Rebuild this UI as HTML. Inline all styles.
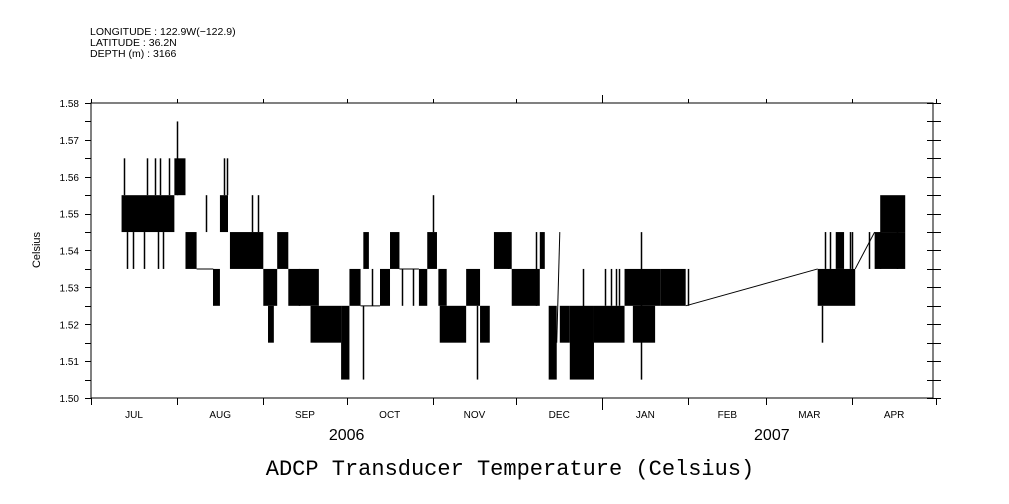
<!DOCTYPE html>
<html><head><meta charset="utf-8"><style>
body{margin:0;background:#fff;width:1009px;height:504px;overflow:hidden}
svg{display:block}
text{font-family:"Liberation Sans",sans-serif;fill:#000}
</style></head><body>
<svg id="chart" width="1009" height="504" viewBox="0 0 1009 504">
<g font-size="10.5">
<text x="90" y="35">LONGITUDE : 122.9W(−122.9)</text>
<text x="90" y="46">LATITUDE : 36.2N</text>
<text x="90" y="57">DEPTH (m) : 3166</text>
</g>
<text x="40" y="250" font-size="11" text-anchor="middle" transform="rotate(-90 40 250)">Celsius</text>
<text x="510" y="475" font-size="22" text-anchor="middle" style="font-family:'Liberation Mono',monospace">ADCP Transducer Temperature (Celsius)</text>
<g id="axes"></g>
<g id="marks"></g>
</svg>
<script>
const monthLabels=["JUL","AUG","SEP","OCT","NOV","DEC","JAN","FEB","MAR","APR"];
const monthStartDays=[0,31,62,92,123,153,184,215,243,274,304];
const yTicks=[1.50,1.51,1.52,1.53,1.54,1.55,1.56,1.57,1.58];
const yearLabels=["2006","2007"];
const blockStart=[11,30,34,43.9,46.4,50,62,63.7,67,71,79,90,93,98,104,107.6,118,121,125.5,125,135,140,145,151.4,161.5,164.7,168.7,172.3,181,192,195,205,261.5,268,282,284];
const blockEnd=[30,34,38,46.4,49.3,62,67,65.8,71,82,90,93,97,100,107.6,111,121,124.5,135,128,140,143.5,151.4,161.5,163.3,167.6,172.3,181,192,205,203,214,275,271,293,293];
const blockLow=[1.545,1.555,1.535,1.525,1.545,1.535,1.525,1.515,1.535,1.525,1.515,1.505,1.525,1.535,1.525,1.535,1.525,1.535,1.515,1.525,1.525,1.515,1.535,1.525,1.535,1.505,1.515,1.505,1.515,1.525,1.515,1.525,1.525,1.535,1.535,1.545];
const blockHigh=[1.555,1.565,1.545,1.535,1.555,1.545,1.535,1.525,1.545,1.535,1.525,1.525,1.535,1.545,1.535,1.545,1.535,1.545,1.525,1.535,1.535,1.525,1.545,1.535,1.545,1.525,1.525,1.525,1.525,1.535,1.525,1.535,1.535,1.545,1.545,1.555];
const spikeDay=[12,13,15,19,20,23,24,25,26,28,31,41.5,48,49,58,60,75,98,101,112,116,123,139,150,160,177,185,187,189,190,198,215,263,264,266,273,274,280,284,290];
const spikeLow=[1.555,1.535,1.535,1.535,1.555,1.555,1.535,1.555,1.535,1.555,1.555,1.545,1.555,1.555,1.545,1.545,1.525,1.505,1.525,1.525,1.525,1.545,1.505,1.535,1.525,1.515,1.525,1.525,1.525,1.525,1.505,1.525,1.515,1.535,1.535,1.535,1.535,1.535,1.535,1.535];
const spikeHigh=[1.565,1.545,1.545,1.545,1.565,1.565,1.545,1.565,1.545,1.565,1.575,1.555,1.565,1.565,1.555,1.555,1.535,1.525,1.535,1.535,1.535,1.555,1.525,1.545,1.545,1.535,1.535,1.535,1.535,1.535,1.545,1.535,1.525,1.545,1.545,1.545,1.545,1.545,1.545,1.545];
const traceDays=[[38,44],[97,104],[111,118],[167.6,168.7],[214,261.5],[275,282]];
const traceVals=[[1.535,1.535],[1.525,1.525],[1.535,1.535],[1.515,1.545],[1.525,1.535],[1.535,1.545]];

const X0=91,X1=933,Y0=103,Y1=398;
const xs=d=>X0+d*(X1-X0)/303;
const ys=v=>Y1-(v-1.50)/0.08*(Y1-Y0);
const NS="http://www.w3.org/2000/svg";
function mk(tag,attrs,parent){const e=document.createElementNS(NS,tag);for(const k in attrs)e.setAttribute(k,attrs[k]);parent.appendChild(e);return e;}
const axes=document.getElementById('axes'),marks=document.getElementById('marks');
const frame=mk('rect',{x:X0,y:Y0,width:X1-X0,height:Y1-Y0,fill:'none',stroke:'#000','stroke-width':1},axes);


for(let i=0;i<=16;i++){
  const v=1.50+i*0.005,y=Math.round(ys(v))+0.5;
  const t=mk('path',{d:`M${X0-6} ${y}H${X0} M${X1-6} ${y}H${X1+8}`,stroke:'#000'},axes);
  
  
}
yTicks.forEach(v=>{
  const t=mk('text',{x:X0-12,y:ys(v)+4,'font-size':10,'text-anchor':'end'},axes);
  t.textContent=v.toFixed(2);
  
  
});
monthStartDays.forEach((d,i)=>{
  const x=Math.round(xs(d))+0.5,big=(d===184);
  const t=mk('path',{d:`M${x} ${Y0-(big?8:4)}V${Y0} M${x} ${Y1}V${Y1+(big?12:7)}`,stroke:'#000'},axes);
  
  
  if(i<monthLabels.length){
    const l=mk('text',{x:(xs(d)+xs(monthStartDays[i+1]))/2,y:418,'font-size':10,'text-anchor':'middle'},axes);
    l.textContent=monthLabels[i];
    
    
  }
});
[[xs(92),yearLabels[0]],[xs(245),yearLabels[1]]].forEach(([x,s])=>{
  const l=mk('text',{x:x,y:440,'font-size':16,'text-anchor':'middle'},axes);
  l.textContent=s;
  
  
});
blockStart.forEach((d,i)=>{
  const r=mk('rect',{x:xs(d),y:ys(blockHigh[i]),width:Math.max(1,xs(blockEnd[i])-xs(d)),height:ys(blockLow[i])-ys(blockHigh[i]),fill:'#000'},marks);
  
  
});
spikeDay.forEach((d,i)=>{
  const x=Math.round(xs(d))+0.5;
  const s=mk('path',{d:`M${x} ${ys(spikeLow[i])}V${ys(spikeHigh[i])}`,stroke:'#000','stroke-width':1.5},marks);
  
  
});
traceDays.forEach((dd,i)=>{
  const s=mk('path',{d:`M${xs(dd[0])} ${ys(traceVals[i][0])}L${xs(dd[1])} ${ys(traceVals[i][1])}`,stroke:'#000',fill:'none'},marks);
  
  
});
</script>
</body></html>
